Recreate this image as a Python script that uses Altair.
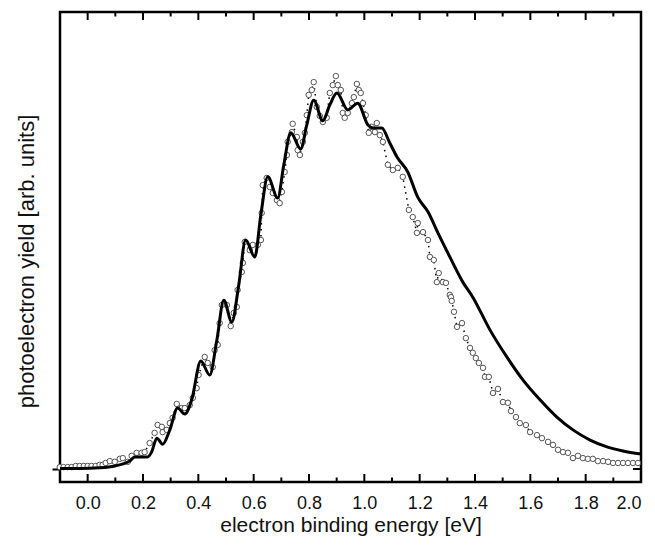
import altair as alt
import pandas as pd

# --- simulated spectrum (solid line) ---
sim_energy = [-0.100, -0.029, 0.043, 0.098, 0.152, 0.170, 0.217, 0.231, 0.250, 0.271,
              0.297, 0.325, 0.351, 0.376, 0.409, 0.441, 0.467, 0.492, 0.521, 0.546,
              0.571, 0.604, 0.626, 0.651, 0.687, 0.709, 0.734, 0.770, 0.792, 0.817,
              0.850, 0.875, 0.901, 0.940, 0.976, 1.013, 1.034, 1.063, 1.092, 1.118,
              1.157, 1.193, 1.230, 1.266, 1.309, 1.356, 1.392, 1.454, 1.515, 1.573,
              1.635, 1.696, 1.754, 1.816, 1.877, 1.935, 2.000]
sim_yield = [0.001, 0.001, 0.003, 0.008, 0.021, 0.032, 0.032, 0.045, 0.082, 0.066,
             0.104, 0.162, 0.146, 0.184, 0.287, 0.250, 0.343, 0.449, 0.391, 0.489,
             0.609, 0.564, 0.676, 0.777, 0.721, 0.809, 0.894, 0.851, 0.915, 0.981,
             0.926, 0.968, 1.000, 0.955, 0.973, 0.915, 0.907, 0.907, 0.867, 0.830,
             0.790, 0.723, 0.684, 0.628, 0.564, 0.497, 0.457, 0.370, 0.298, 0.237,
             0.184, 0.138, 0.104, 0.077, 0.059, 0.048, 0.040]

# --- experimental spectrum (open circles) ---
exp_energy = [-0.101, -0.087, -0.072, -0.058, -0.043, -0.029, -0.014, 0.000, 0.014, 0.029,
              0.043, 0.054, 0.065, 0.080, 0.098, 0.116, 0.127, 0.145, 0.159, 0.177,
              0.195, 0.206, 0.224, 0.242, 0.253, 0.268, 0.271, 0.286, 0.297, 0.307,
              0.322, 0.340, 0.351, 0.369, 0.380, 0.394, 0.401, 0.423, 0.434, 0.452,
              0.459, 0.470, 0.477, 0.485, 0.503, 0.517, 0.528, 0.539, 0.542, 0.557,
              0.561, 0.568, 0.586, 0.597, 0.615, 0.626, 0.629, 0.633, 0.647, 0.658,
              0.669, 0.684, 0.694, 0.702, 0.712, 0.720, 0.723, 0.738, 0.741, 0.756,
              0.759, 0.767, 0.778, 0.785, 0.792, 0.799, 0.810, 0.817, 0.828, 0.839,
              0.850, 0.864, 0.875, 0.886, 0.897, 0.904, 0.915, 0.922, 0.929, 0.940,
              0.955, 0.962, 0.973, 0.980, 0.987, 0.995, 1.005, 1.016, 1.027, 1.038,
              1.045, 1.056, 1.067, 1.085, 1.103, 1.121, 1.139, 1.161, 1.175, 1.190,
              1.193, 1.212, 1.230, 1.237, 1.251, 1.262, 1.269, 1.284, 1.295, 1.309,
              1.313, 1.316, 1.324, 1.335, 1.353, 1.367, 1.382, 1.392, 1.403, 1.414,
              1.429, 1.436, 1.450, 1.465, 1.483, 1.501, 1.519, 1.530, 1.548, 1.562,
              1.584, 1.599, 1.624, 1.642, 1.664, 1.682, 1.700, 1.718, 1.736, 1.754,
              1.772, 1.790, 1.808, 1.826, 1.844, 1.863, 1.881, 1.899, 1.917, 1.935,
              1.953, 1.971, 1.989]
exp_yield = [0.005, 0.005, 0.005, 0.005, 0.008, 0.008, 0.008, 0.008, 0.008, 0.008,
             0.011, 0.011, 0.016, 0.021, 0.019, 0.027, 0.029, 0.019, 0.035, 0.043,
             0.043, 0.045, 0.069, 0.096, 0.117, 0.112, 0.098, 0.104, 0.122, 0.136,
             0.173, 0.162, 0.162, 0.170, 0.189, 0.215, 0.250, 0.298, 0.282, 0.271,
             0.316, 0.330, 0.388, 0.436, 0.436, 0.380, 0.415, 0.431, 0.476, 0.524,
             0.548, 0.604, 0.582, 0.596, 0.596, 0.609, 0.681, 0.755, 0.774, 0.750,
             0.734, 0.715, 0.707, 0.737, 0.790, 0.835, 0.870, 0.896, 0.918, 0.883,
             0.848, 0.835, 0.870, 0.894, 0.941, 0.995, 1.008, 1.029, 0.963, 0.939,
             0.923, 0.934, 1.000, 1.021, 1.045, 1.021, 1.008, 0.947, 0.934, 0.947,
             0.973, 0.989, 1.024, 1.008, 1.000, 0.973, 0.941, 0.894, 0.910, 0.896,
             0.920, 0.888, 0.870, 0.809, 0.795, 0.801, 0.777, 0.689, 0.670, 0.628,
             0.654, 0.630, 0.609, 0.564, 0.556, 0.497, 0.521, 0.497, 0.495, 0.463,
             0.457, 0.447, 0.418, 0.378, 0.388, 0.348, 0.322, 0.309, 0.295, 0.282,
             0.269, 0.245, 0.245, 0.202, 0.213, 0.178, 0.176, 0.154, 0.138, 0.122,
             0.117, 0.098, 0.090, 0.082, 0.072, 0.064, 0.051, 0.045, 0.043, 0.029,
             0.035, 0.029, 0.027, 0.027, 0.021, 0.021, 0.019, 0.016, 0.016, 0.016,
             0.016, 0.016, 0.016]

# --- axis ticks ---
major_ticks = [0.0, 0.2, 0.4, 0.6, 0.8, 1.0, 1.2, 1.4, 1.6, 1.8, 2.0]
minor_ticks = [0.1, 0.3, 0.5, 0.7, 0.9, 1.1, 1.3, 1.5, 1.7, 1.9]
y_ticks = [0.0]

x_domain = [-0.1, 2.0]
y_domain = [-0.0346, 1.2154]

W, H = 581, 470
FONT = "Liberation Sans"

sim = pd.DataFrame({"E": sim_energy, "I": sim_yield})
exp = pd.DataFrame({"E": exp_energy, "I": exp_yield})
majors = pd.DataFrame({"E": major_ticks})
minors = pd.DataFrame({"E": minor_ticks})
yt = pd.DataFrame({"I": y_ticks})

xscale = alt.Scale(domain=x_domain, nice=False, zero=False)
yscale = alt.Scale(domain=y_domain, nice=False, zero=False)

x_axis = alt.Axis(
    values=major_ticks, format=".1f", ticks=False, tickSize=0, domain=False, grid=False,
    labelFontSize=18, labelFont=FONT, labelColor="#111", labelPadding=12,
    title="electron binding energy [eV]", titleFont=FONT, titleFontSize=21,
    titleFontWeight="normal", titleColor="#111", titleY=49, titleBaseline="alphabetic",
)
y_axis = alt.Axis(
    values=y_ticks, labels=False, ticks=True, tickSize=8, tickWidth=2, tickColor="black",
    domain=False, grid=False,
    title="photoelectron yield [arb. units]", titleFont=FONT, titleFontSize=22,
    titleFontWeight="normal", titleColor="#111", titleX=-27, titleY=249,
    titleBaseline="alphabetic", titleAlign="center", titleAngle=270,
)

X = alt.X("E:Q", scale=xscale, axis=x_axis)
Y = alt.Y("I:Q", scale=yscale, axis=y_axis)

dotted = alt.Chart(exp).mark_line(
    color="black", strokeWidth=1.5, strokeDash=[1.5, 4.5]
).encode(x=X, y=Y)

circles = alt.Chart(exp).mark_point(
    shape="circle", filled=False, fill="white", fillOpacity=1,
    stroke="#555", strokeWidth=1, size=30, opacity=1
).encode(x=X, y=Y)

line = alt.Chart(sim).mark_line(
    color="black", strokeWidth=3, interpolate="monotone"
).encode(x=X, y=Y)

bot_major = alt.Chart(majors).mark_rule(color="black", strokeWidth=2).encode(
    x=X, y=alt.value(H), y2=alt.value(H - 8))
bot_minor = alt.Chart(minors).mark_rule(color="black", strokeWidth=2).encode(
    x=X, y=alt.value(H), y2=alt.value(H - 4.5))
top_major = alt.Chart(majors).mark_rule(color="black", strokeWidth=2).encode(
    x=X, y=alt.value(0), y2=alt.value(8))
top_minor = alt.Chart(minors).mark_rule(color="black", strokeWidth=2).encode(
    x=X, y=alt.value(0), y2=alt.value(4.5))
right_tick = alt.Chart(yt).mark_rule(color="black", strokeWidth=2).encode(
    y=Y, x=alt.value(W - 8), x2=alt.value(W))

chart = alt.layer(
    dotted, circles, line, bot_major, bot_minor, top_major, top_minor, right_tick
).properties(
    width=W, height=H,
    padding={"left": 52, "top": 4, "right": 6, "bottom": 54},
    autosize=alt.AutoSizeParams(type="none"),
    background="white",
).configure_view(
    stroke="black", strokeWidth=2.5
)

chart.save("out.html", embed_options={"renderer": "svg", "actions": False})
